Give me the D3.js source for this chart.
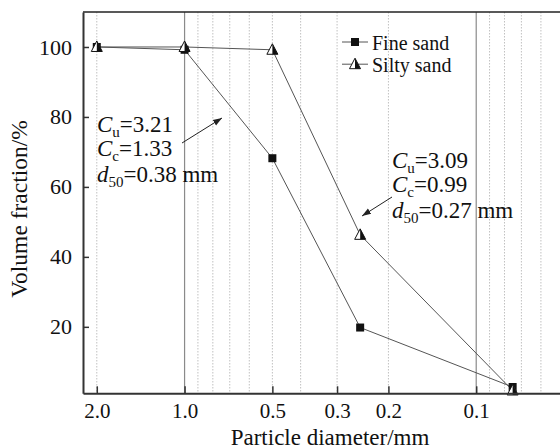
<!DOCTYPE html>
<html><head><meta charset="utf-8">
<script src="https://cdn.jsdelivr.net/npm/d3@7"></script>
<style>
body{margin:0;background:#fff;}
svg, svg text{font-family:"Liberation Serif","DejaVu Serif","Times New Roman",Times,serif !important;}
text{fill:#111;}
</style></head>
<body><svg id="c" width="560" height="448"></svg>
<script>
const diameters = [2.0, 1.0, 0.5, 0.25, 0.075];
const fineSand = [100, 99.2, 68.2, 19.8, 2.8];
const siltySand = [100, 100, 99.2, 46.3, 1.8];
const xTickValues = [2.0, 1.0, 0.5, 0.3, 0.2, 0.1];
const xTickLabels = ["2.0", "1.0", "0.5", "0.3", "0.2", "0.1"];
const yTickValues = [20, 40, 60, 80, 100];
const gridMajor = [1.0, 0.1];
const gridMinor = [2.0, 0.9, 0.8, 0.7, 0.6, 0.5, 0.4, 0.3, 0.2, 0.09, 0.08, 0.07, 0.06];
const seriesNames = ["Fine sand", "Silty sand"];

const FONT = "'Liberation Serif','DejaVu Serif','Times New Roman',Times,serif";
const svg = d3.select("#c");
const L = 83, T = 12, B = 393.3, R = 564;
const x = d3.scaleLog().domain([2.23, 0.05]).range([L, R]);
const y = d3.scaleLinear().domain([1, 110]).range([B, T]);

// gridlines
svg.append("g").selectAll("line").data(gridMinor).join("line")
  .attr("x1", d => x(d)).attr("x2", d => x(d)).attr("y1", T).attr("y2", B)
  .attr("stroke", "#c0c0c0").attr("stroke-width", 1).attr("stroke-dasharray", "1.5,1.5");
svg.append("g").selectAll("line").data(gridMajor).join("line")
  .attr("x1", d => x(d)).attr("x2", d => x(d)).attr("y1", T).attr("y2", B)
  .attr("stroke", "#8a8a8a").attr("stroke-width", 1.2);

// top border
svg.append("line").attr("x1", L).attr("x2", 560).attr("y1", T).attr("y2", T)
  .attr("stroke", "#222").attr("stroke-width", 1.5);

// lines
const line = d3.line().x((d, i) => x(diameters[i])).y(d => y(d));
[fineSand, siltySand].forEach(s => {
  svg.append("path").datum(s).attr("d", line)
    .attr("fill", "none").attr("stroke", "#555").attr("stroke-width", 1);
});

// markers
function square(g, cx, cy, s) {
  g.append("rect").attr("x", cx - s/2).attr("y", cy - s/2).attr("width", s).attr("height", s)
    .attr("fill", "#111");
}
function tri(g, cx, cy) {
  g.append("path").attr("d", `M${cx},${cy-6}L${cx+5.5},${cy+4.5}L${cx-5.5},${cy+4.5}Z`).attr("fill", "#fff");
  g.append("path").attr("d", `M${cx},${cy-6}L${cx+5.5},${cy+4.5}L${cx},${cy+4.5}Z`).attr("fill", "#111");
  g.append("path").attr("d", `M${cx},${cy-6}L${cx+5.5},${cy+4.5}L${cx-5.5},${cy+4.5}Z`)
    .attr("fill", "none").attr("stroke", "#111").attr("stroke-width", 1);
}
const mg = svg.append("g");
fineSand.forEach((v, i) => square(mg, x(diameters[i]), y(v), 8));
siltySand.forEach((v, i) => tri(mg, x(diameters[i]), y(v)));

// axes
const xAxis = d3.axisBottom(x).tickValues(xTickValues)
  .tickFormat((d, i) => xTickLabels[i]).tickSizeInner(-7).tickSizeOuter(0).tickPadding(10);
const gx = svg.append("g").attr("transform", `translate(0,${B})`).call(xAxis).attr("font-family", FONT);
gx.select(".domain").attr("stroke", "#333").attr("stroke-width", 2);
gx.selectAll(".tick line").attr("stroke", "#333").attr("stroke-width", 1.5);
gx.selectAll(".tick text").attr("font-size", 21).attr("fill", "#111");

const yAxis = d3.axisLeft(y).tickValues(yTickValues).tickSizeInner(-6).tickSizeOuter(0).tickPadding(11);
const gy = svg.append("g").attr("transform", `translate(${L},0)`).call(yAxis).attr("font-family", FONT);
gy.select(".domain").attr("stroke", "#333").attr("stroke-width", 2);
gy.selectAll(".tick line").attr("stroke", "#333").attr("stroke-width", 1.5);
gy.selectAll(".tick text").attr("font-size", 22).attr("fill", "#111");

// axis titles
svg.append("text").attr("x", 330).attr("y", 444.5).attr("text-anchor", "middle")
  .attr("font-size", 23).text("Particle diameter/mm");
svg.append("text").attr("transform", "translate(27,209) rotate(-90)").attr("text-anchor", "middle")
  .attr("font-size", 23.5).text("Volume fraction/%");

// legend
const lg = svg.append("g");
[0, 1].forEach(i => {
  const cy = 42 + i * 22.2;
  lg.append("line").attr("x1", 342).attr("x2", 368).attr("y1", cy).attr("y2", cy)
    .attr("stroke", "#555").attr("stroke-width", 1);
  if (i === 0) square(lg, 355, cy, 8);
  else tri(lg, 355, cy);
  lg.append("text").attr("x", 372).attr("y", cy + 8).attr("font-size", 20).text(seriesNames[i]);
});

// annotations
function annot(x0, y0, cu, cc, d50) {
  const g = svg.append("g").attr("font-size", 23);
  const rows = [["C", "u", "=" + cu], ["C", "c", "=" + cc], ["d", "50", "=" + d50 + " mm"]];
  const off = [0, 23.5, 50];
  rows.forEach((r, i) => {
    const t = g.append("text").attr("x", x0).attr("y", y0 + off[i]);
    t.append("tspan").attr("font-style", "italic").text(r[0]);
    t.append("tspan").attr("font-size", 15).attr("dy", 5).text(r[1]);
    t.append("tspan").attr("dy", -5).text(r[2]);
  });
}
annot(97, 132, "3.21", "1.33", "0.38");
annot(392, 168, "3.09", "0.99", "0.27");

// arrows
svg.append("defs").append("marker").attr("id", "ah").attr("viewBox", "0 0 10 10")
  .attr("refX", 10).attr("refY", 5).attr("markerWidth", 9).attr("markerHeight", 9)
  .attr("markerUnits", "userSpaceOnUse").attr("orient", "auto")
  .append("path").attr("d", "M0,1.5L10,5L0,8.5Z").attr("fill", "#222");
svg.append("line").attr("x1", 182).attr("y1", 143).attr("x2", 222).attr("y2", 118)
  .attr("stroke", "#222").attr("stroke-width", 1).attr("marker-end", "url(#ah)");
svg.append("line").attr("x1", 392).attr("y1", 197).attr("x2", 362).attr("y2", 216)
  .attr("stroke", "#222").attr("stroke-width", 1).attr("marker-end", "url(#ah)");

svg.selectAll("text").attr("font-family", FONT);
</script></body></html>
